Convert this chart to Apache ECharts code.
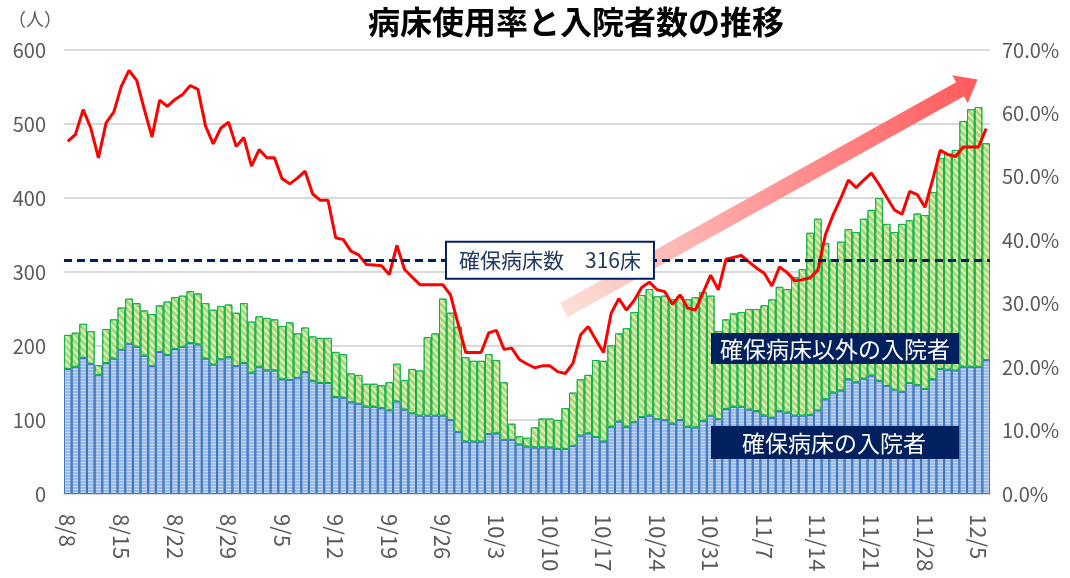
<!DOCTYPE html>
<html>
<head>
<meta charset="utf-8" />
<title>病床使用率と入院者数の推移</title>
<script src="https://cdn.jsdelivr.net/npm/echarts@6/dist/echarts.min.js"></script>
<style>
    html, body {
        margin: 0;
        padding: 0;
        background: #fff;
    }
    #chart {
        width: 1070px;
        height: 578px;
    }
</style>
</head>
<body>
<div id="chart"></div>
<script type="text/javascript">
    // 日付 (8/8 ~ 12/6)
    var dates = [
        '8/8', '8/9', '8/10', '8/11', '8/12', '8/13', '8/14', '8/15', '8/16', '8/17', '8/18', '8/19', '8/20', '8/21', '8/22', '8/23',
        '8/24', '8/25', '8/26', '8/27', '8/28', '8/29', '8/30', '8/31',
        '9/1', '9/2', '9/3', '9/4', '9/5', '9/6', '9/7', '9/8', '9/9', '9/10', '9/11', '9/12', '9/13', '9/14', '9/15',
        '9/16', '9/17', '9/18', '9/19', '9/20', '9/21', '9/22', '9/23', '9/24', '9/25', '9/26', '9/27', '9/28', '9/29', '9/30',
        '10/1', '10/2', '10/3', '10/4', '10/5', '10/6', '10/7', '10/8', '10/9', '10/10', '10/11', '10/12', '10/13', '10/14', '10/15', '10/16',
        '10/17', '10/18', '10/19', '10/20', '10/21', '10/22', '10/23', '10/24', '10/25', '10/26', '10/27', '10/28', '10/29', '10/30', '10/31',
        '11/1', '11/2', '11/3', '11/4', '11/5', '11/6', '11/7', '11/8', '11/9', '11/10', '11/11', '11/12', '11/13', '11/14', '11/15',
        '11/16', '11/17', '11/18', '11/19', '11/20', '11/21', '11/22', '11/23', '11/24', '11/25', '11/26', '11/27', '11/28', '11/29', '11/30',
        '12/1', '12/2', '12/3', '12/4', '12/5', '12/6'
    ];

    // 確保病床の入院者 (人)
    var securedBeds = [
        169, 172, 184, 176, 161, 177, 183, 195, 203, 199, 187, 173, 192, 188, 196, 199, 204, 202, 183, 175,
        182, 185, 173, 177, 164, 172, 167, 167, 155, 154, 157, 165, 153, 150, 150, 131, 130, 124, 122, 118,
        118, 116, 113, 125, 114, 109, 106, 106, 106, 106, 100, 84, 71, 71, 71, 81, 82, 73, 73, 67,
        64, 63, 63, 63, 61, 61, 65, 79, 82, 77, 71, 91, 98, 91, 97, 104, 106, 101, 100, 95,
        100, 91, 90, 99, 106, 101, 115, 118, 118, 114, 112, 106, 103, 112, 110, 106, 106, 107, 113, 128,
        137, 140, 155, 151, 156, 160, 153, 146, 141, 138, 150, 147, 142, 155, 169, 168, 167, 172, 172, 172, 181
    ];

    // 確保病床以外の入院者 (人)
    var otherBeds = [
        46, 46, 46, 44, 13, 46, 53, 57, 61, 59, 61, 70, 63, 72, 70, 69, 70, 69, 75, 74,
        72, 71, 72, 81, 69, 68, 71, 69, 72, 78, 60, 60, 60, 61, 61, 61, 59, 39, 39, 31,
        31, 31, 38, 51, 40, 60, 61, 106, 111, 158, 145, 142, 114, 109, 109, 108, 99, 78, 22, 11,
        12, 27, 39, 39, 39, 55, 72, 76, 79, 104, 109, 110, 119, 133, 149, 165, 171, 166, 168, 168,
        167, 172, 176, 174, 162, 119, 121, 126, 128, 136, 138, 149, 160, 168, 167, 187, 198, 246, 259, 211,
        180, 201, 203, 203, 216, 224, 247, 219, 213, 227, 220, 232, 235, 253, 285, 292, 298, 332, 348, 351, 293
    ];

    // 病床使用率 (%)
    var occupancyRate = [
        55.6, 56.7, 60.6, 57.7, 53.0, 58.5, 60.2, 64.3, 66.8, 65.2, 60.6, 56.3, 62.1, 61.1, 62.2, 63.0, 64.4, 63.8, 58.0, 55.2,
        57.7, 58.6, 54.8, 56.2, 51.7, 54.3, 53.0, 53.0, 49.7, 48.9, 49.8, 50.9, 47.3, 46.3, 46.3, 40.4, 40.1, 38.3, 37.7, 36.2,
        36.1, 36.0, 34.6, 39.2, 35.4, 34.2, 33.0, 33.0, 33.0, 33.0, 31.4, 26.8, 22.3, 22.3, 22.3, 25.4, 25.8, 22.8, 23.0, 21.2,
        20.5, 19.9, 20.2, 20.2, 19.3, 19.0, 20.6, 25.1, 26.4, 24.3, 22.3, 28.5, 30.8, 29.0, 30.5, 32.6, 33.4, 32.2, 31.9, 29.9,
        31.4, 29.3, 29.0, 31.7, 34.5, 32.2, 37.0, 37.3, 37.6, 36.6, 35.6, 34.8, 32.8, 35.8, 34.9, 33.6, 33.8, 34.1, 35.3, 40.9,
        44.0, 46.6, 49.5, 48.3, 49.5, 50.6, 48.8, 46.8, 44.8, 44.1, 47.7, 47.2, 45.2, 49.5, 54.2, 53.5, 53.2, 54.7, 54.7, 54.7, 57.6
    ];

    var bedCapacity = 316;
    var capacityLabelDate = '10/10';

    var font = '"Noto Sans CJK JP", "Noto Sans", sans-serif';
    var navy = '#002060';

    var chart = echarts.init(document.getElementById('chart'));

    var option = {
        animation: false,
        aria: { enabled: true, decal: { show: true } },
        textStyle: { fontFamily: font },
        title: {
            text: '病床使用率と入院者数の推移',
            left: 363,
            top: 1,
            textStyle: { fontSize: 32, fontWeight: 'bold', color: '#000', fontFamily: font }
        },
        grid: { left: 64, right: 80, top: 50, bottom: 84 },
        xAxis: {
            type: 'category',
            data: dates,
            axisTick: { show: false },
            axisLine: { lineStyle: { color: '#d9d9d9', width: 2 } },
            axisLabel: {
                interval: 6,
                rotate: -90,
                fontSize: 22,
                color: '#595959',
                margin: 20
            }
        },
        yAxis: [{
            type: 'value',
            min: 0,
            max: 600,
            interval: 100,
            name: '（人）',
            nameGap: 22,
            nameTextStyle: { fontSize: 18, color: '#595959', align: 'right', padding: [0, 2, 0, 0] },
            axisLine: { show: false },
            axisTick: { show: false },
            axisLabel: { fontSize: 20, color: '#595959', margin: 18 },
            splitLine: { lineStyle: { color: '#d9d9d9', width: 2 } }
        }, {
            type: 'value',
            min: 0,
            max: 70,
            interval: 10,
            axisLine: { show: false },
            axisTick: { show: false },
            axisLabel: {
                fontSize: 20,
                color: '#595959',
                margin: 12,
                formatter: function(v) {
                    return v.toFixed(1) + '%';
                }
            },
            splitLine: { show: false }
        }],
        series: [{
            name: '確保病床の入院者',
            type: 'bar',
            stack: 'patients',
            barCategoryGap: '0%',
            data: securedBeds,
            itemStyle: {
                color: '#9dbbe6',
                borderColor: '#3b78c4',
                borderWidth: 1,
                decal: {
                    symbol: 'rect',
                    symbolSize: 1,
                    color: 'rgba(255,255,255,0.4)',
                    dashArrayX: [1, 0],
                    dashArrayY: [1, 2],
                    rotation: 0
                }
            }
        }, {
            name: '確保病床以外の入院者',
            type: 'bar',
            stack: 'patients',
            barCategoryGap: '0%',
            data: otherBeds,
            itemStyle: {
                color: '#acd67c',
                borderColor: '#12b04c',
                borderWidth: 1,
                decal: {
                    symbol: 'rect',
                    symbolSize: 1,
                    color: 'rgba(240,252,205,0.75)',
                    dashArrayX: [1, 0],
                    dashArrayY: [2, 3],
                    rotation: Math.PI / 4
                }
            },
            markLine: {
                silent: true,
                symbol: ['none', 'none'],
                label: { show: false },
                lineStyle: { color: navy, type: [8, 5], width: 3 },
                data: [{ yAxis: bedCapacity }]
            },
            markPoint: {
                silent: true,
                symbol: 'rect',
                symbolSize: 0,
                data: [{
                    coord: [capacityLabelDate, bedCapacity],
                    label: {
                        show: true,
                        position: 'inside',
                        formatter: '確保病床数　' + bedCapacity + '床',
                        fontSize: 21,
                        color: '#1f3864',
                        backgroundColor: '#fff',
                        borderColor: navy,
                        borderWidth: 2,
                        padding: [7, 12, 7, 12]
                    }
                }]
            }
        }, {
            name: '病床使用率',
            type: 'line',
            yAxisIndex: 1,
            data: occupancyRate,
            symbol: 'none',
            z: 4,
            lineStyle: { color: '#ff0000', width: 3 }
        }],
        graphic: [{
            type: 'polygon',
            z: 3,
            shape: {
                points: [
                    [560.1, 303.0], [956.1, 82.2], [952.2, 75.2], [977.5, 79.5],
                    [967.8, 103.2], [963.9, 96.2], [567.9, 317.0]
                ]
            },
            style: {
                fill: new echarts.graphic.LinearGradient(0, 1, 1, 0, [
                    { offset: 0, color: '#fbe1d9' },
                    { offset: 0.45, color: '#ff9e9e' },
                    { offset: 1, color: '#ff5a5a' }
                ])
            }
        }, {
            type: 'rect',
            z: 10,
            shape: { x: 711, y: 333, width: 248, height: 31 },
            style: { fill: navy }
        }, {
            type: 'text',
            z: 11,
            x: 835,
            y: 349,
            style: {
                text: '確保病床以外の入院者',
                fill: '#fff',
                font: '23px ' + font,
                align: 'center',
                verticalAlign: 'middle'
            }
        }, {
            type: 'rect',
            z: 10,
            shape: { x: 711, y: 426, width: 248, height: 33 },
            style: { fill: navy }
        }, {
            type: 'text',
            z: 11,
            x: 834,
            y: 443,
            style: {
                text: '確保病床の入院者',
                fill: '#fff',
                font: '23px ' + font,
                align: 'center',
                verticalAlign: 'middle'
            }
        }]
    };

    chart.setOption(option);
</script>
</body>
</html>
